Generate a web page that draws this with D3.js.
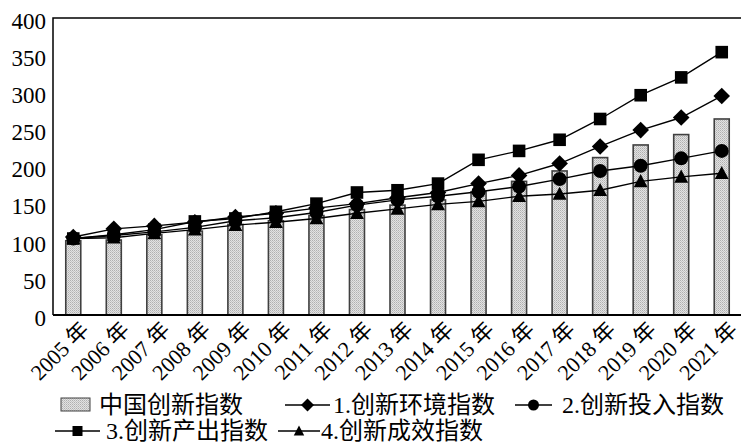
<!DOCTYPE html>
<html>
<head>
<meta charset="utf-8">
<script src="https://cdn.jsdelivr.net/npm/d3@7"></script>
<style>
  body { margin: 0; background: #fff; }
  svg text { font-family: "Liberation Serif", "Noto Sans CJK SC", serif; fill: #000; }
</style>
</head>
<body>
<div id="chart"></div>
<script>
// data
var years = ["2005", "2006", "2007", "2008", "2009", "2010", "2011", "2012", "2013",
             "2014", "2015", "2016", "2017", "2018", "2019", "2020", "2021"];
var chinaIndex  = [100, 101, 108, 113, 122, 127, 134, 142, 148, 155, 166, 180, 194, 212, 229, 243, 264];
var envIndex    = [105, 116, 120, 125, 132, 137, 144, 150, 158, 165, 177, 188, 204, 227, 249, 266, 295];
var inputIndex  = [103, 107, 112, 118, 127, 131, 138, 148, 155, 160, 166, 173, 183, 194, 201, 211, 221];
var outputIndex = [103, 108, 115, 126, 130, 139, 150, 165, 168, 177, 209, 221, 236, 264, 296, 320, 354];
var effectIndex = [103, 104, 110, 115, 121, 125, 130, 137, 143, 149, 153, 160, 163, 168, 180, 186, 191];
var yTicks = [0, 50, 100, 150, 200, 250, 300, 350, 400];

var barLabel = "中国创新指数";
var lineSeries = [
  {name: "1.创新环境指数", values: envIndex, marker: "diamond"},
  {name: "2.创新投入指数", values: inputIndex, marker: "circle"},
  {name: "3.创新产出指数", values: outputIndex, marker: "square"},
  {name: "4.创新成效指数", values: effectIndex, marker: "triangle"}
];

var W = 741, H = 444;
var plot = {left: 53, right: 742, top: 18, bottom: 315};

var svg = d3.select("#chart").append("svg")
  .attr("width", W)
  .attr("height", H);

// dotted grey fill for the bars
var defs = svg.append("defs");
var pat = defs.append("pattern")
  .attr("id", "dots")
  .attr("width", 2).attr("height", 2)
  .attr("patternUnits", "userSpaceOnUse");
pat.append("rect").attr("width", 2).attr("height", 2).attr("fill", "#e2e2e2");
pat.append("rect").attr("width", 1).attr("height", 1).attr("fill", "#b0b0b0");
pat.append("rect").attr("x", 1).attr("y", 1).attr("width", 1).attr("height", 1).attr("fill", "#c4c4c4");

// scales
var x = d3.scaleBand()
  .domain(years)
  .range([plot.left, plot.right])
  .paddingInner(0.63)
  .paddingOuter(0.315);

var y = d3.scaleLinear()
  .domain([0, 400])
  .range([plot.bottom, plot.top]);

function cx(i) { return x(years[i]) + x.bandwidth() / 2; }

// marker shapes
function markerPath(type, s) {
  if (type === "diamond") return "M0," + (-s) + "L" + s + ",0L0," + s + "L" + (-s) + ",0Z";
  if (type === "square") return "M" + (-s) + "," + (-s) + "h" + (2 * s) + "v" + (2 * s) + "h" + (-2 * s) + "Z";
  if (type === "triangle") return "M0," + (-s) + "L" + (s * 0.95) + "," + (s * 0.8) + "L" + (-s * 0.95) + "," + (s * 0.8) + "Z";
  return d3.arc()({innerRadius: 0, outerRadius: s, startAngle: 0, endAngle: 2 * Math.PI});
}
var markerSize = {diamond: 8.3, square: 6.3, circle: 7, triangle: 7.3};
var legendSize = {diamond: 6.5, square: 5, circle: 5.5, triangle: 5.5};

// bars
svg.append("g").selectAll("rect")
  .data(chinaIndex)
  .enter().append("rect")
  .attr("x", function(d, i) { return x(years[i]); })
  .attr("y", function(d) { return y(d); })
  .attr("width", x.bandwidth())
  .attr("height", function(d) { return y(0) - y(d); })
  .attr("fill", "url(#dots)")
  .attr("stroke", "#404040")
  .attr("stroke-width", 1.6);

// frame (left, top, bottom)
svg.append("path")
  .attr("d", "M" + plot.left + "," + plot.bottom + "V" + plot.top + "H" + W)
  .attr("fill", "none").attr("stroke", "#000").attr("stroke-width", 1.5);
svg.append("line")
  .attr("x1", plot.left).attr("x2", W)
  .attr("y1", plot.bottom).attr("y2", plot.bottom)
  .attr("stroke", "#000").attr("stroke-width", 1.8);

// y axis labels
var yAxis = d3.axisLeft(y).tickValues(yTicks).tickSize(0).tickPadding(7);
var gy = svg.append("g")
  .attr("transform", "translate(" + plot.left + ",0)")
  .call(yAxis);
gy.select(".domain").remove();
gy.selectAll("text")
  .attr("font-size", 23)
  .attr("dy", "0.45em")
  .style("font-family", "Liberation Serif, serif");

// lines and markers
var line = d3.line()
  .x(function(d, i) { return cx(i); })
  .y(function(d) { return y(d); });

lineSeries.forEach(function(s) {
  var g = svg.append("g");
  g.append("path")
    .attr("d", line(s.values))
    .attr("fill", "none")
    .attr("stroke", "#000")
    .attr("stroke-width", 1.4);
  g.selectAll("path.m")
    .data(s.values)
    .enter().append("path")
    .attr("class", "m")
    .attr("transform", function(d, i) { return "translate(" + cx(i) + "," + y(d) + ")"; })
    .attr("d", markerPath(s.marker, markerSize[s.marker]))
    .attr("fill", "#000");
});

// x labels, rotated
svg.append("g").selectAll("text")
  .data(years)
  .enter().append("text")
  .attr("transform", function(d, i) { return "translate(" + (cx(i) + 17) + ",331) rotate(-45)"; })
  .attr("text-anchor", "end")
  .attr("font-size", 22)
  .text(function(d) { return d + " 年"; });

// legend
var legend = svg.append("g").attr("font-size", 24);

var lb = legend.append("g");
lb.append("rect")
  .attr("x", 61).attr("y", 398).attr("width", 29).attr("height", 13)
  .attr("fill", "url(#dots)").attr("stroke", "#404040").attr("stroke-width", 1);
lb.append("text").attr("x", 99).attr("y", 413).text(barLabel);

var legendPos = [
  {x1: 285, x2: 330, ty: 405, tx: 333},
  {x1: 515, x2: 552, ty: 405, tx: 562},
  {x1: 55, x2: 100, ty: 431, tx: 106},
  {x1: 278, x2: 320, ty: 431, tx: 321}
];

lineSeries.forEach(function(s, i) {
  var p = legendPos[i];
  var g = legend.append("g");
  g.append("line")
    .attr("x1", p.x1).attr("x2", p.x2).attr("y1", p.ty).attr("y2", p.ty)
    .attr("stroke", "#000").attr("stroke-width", 1.4);
  g.append("path")
    .attr("transform", "translate(" + ((p.x1 + p.x2) / 2) + "," + p.ty + ")")
    .attr("d", markerPath(s.marker, legendSize[s.marker]))
    .attr("fill", "#000");
  g.append("text").attr("x", p.tx).attr("y", p.ty + 8).text(s.name);
});
</script>
</body>
</html>
